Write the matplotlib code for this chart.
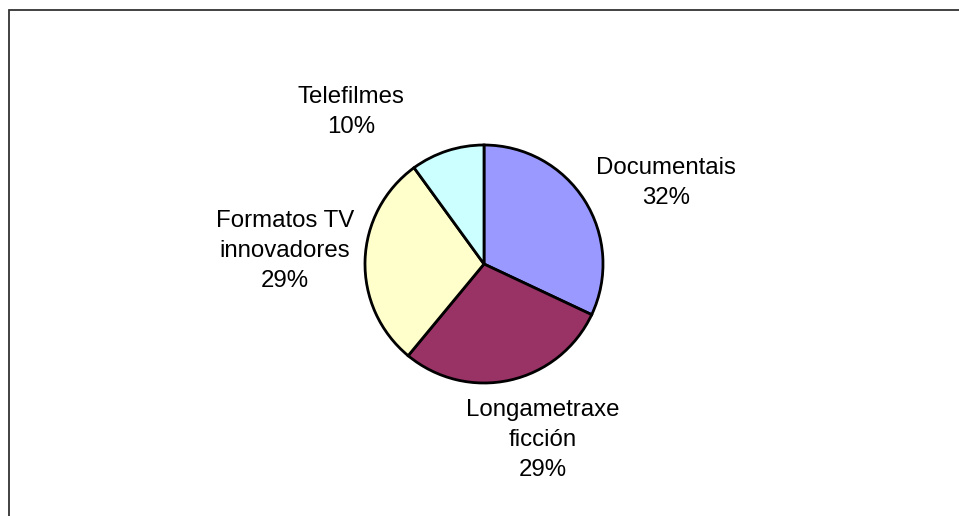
import matplotlib
matplotlib.use("Agg")
import matplotlib.pyplot as plt
from matplotlib.patches import Rectangle

categories = ["Documentais", "Longametraxe\nficción", "Formatos TV\ninnovadores", "Telefilmes"]
values = [32, 29, 29, 10]
colors = ["#9999FF", "#993366", "#FFFFCC", "#CCFFFF"]
# label centres in pixel coords (x, y from top)
label_pos = [(666, 183), (543, 440), (285, 251), (351, 112)]

W, H = 959, 516
cx, cy, r = 484, 264, 119

plt.rcParams['font.family'] = ['Liberation Sans', 'DejaVu Sans']
fig = plt.figure(figsize=(W / 100, H / 100), dpi=100)
fig.patch.set_facecolor("white")
ax = fig.add_axes([0, 0, 1, 1])

ax.pie(values, colors=colors, startangle=90, counterclock=False, radius=1,
       wedgeprops=dict(edgecolor="black", linewidth=2))
ax.set_xlim(-cx / r, (W - cx) / r)
ax.set_ylim(-(H - cy) / r, cy / r)
ax.set_aspect("equal", adjustable="box")
ax.axis("off")

for lab, v, (px, py) in zip(categories, values, label_pos):
    fig.text(px / W, 1 - py / H, f"{lab}\n{v}%", ha="center", va="center",
             fontsize=17.3, linespacing=1.45, color="black")

fig.patches.append(Rectangle((9 / W, -0.1), 1.2, 1 - 9.5 / H + 0.1,
                             transform=fig.transFigure, fill=False,
                             edgecolor="#333333", linewidth=1.3))

fig.savefig("out.png", dpi=100)
